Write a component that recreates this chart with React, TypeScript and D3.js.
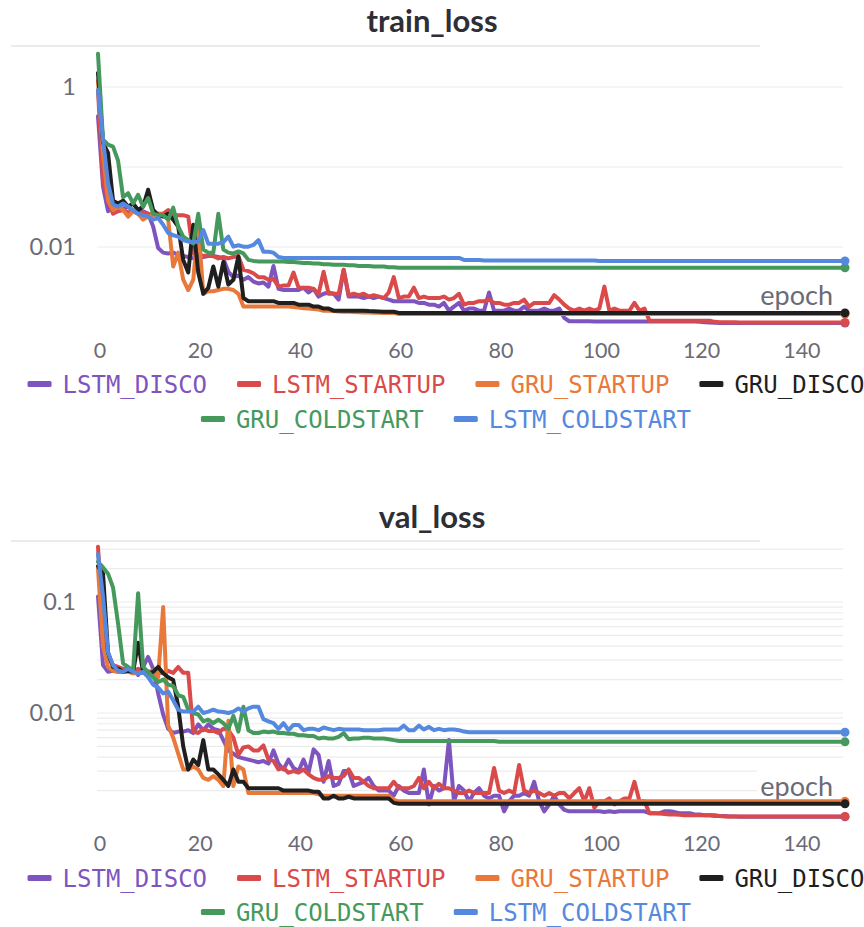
import React from 'react';
import * as d3 from 'd3';

const seriesNames = ['LSTM_DISCO', 'LSTM_STARTUP', 'GRU_STARTUP', 'GRU_DISCO', 'GRU_COLDSTART', 'LSTM_COLDSTART'];
const seriesColors = ['#7E55BF', '#DA4A4A', '#E8793A', '#1F1F1F', '#46995C', '#5489DF'];
const xTicks = [0, 20, 40, 60, 80, 100, 120, 140];

// ---------- train_loss ----------
const trainLstmDisco = [
  0.43, 0.057, 0.028, 0.034, 0.032, 0.030, 0.032, 0.028, 0.027, 0.028,
  0.026, 0.018, 0.0097, 0.0085, 0.0083, 0.0085, 0.0080, 0.0077, 0.0075, 0.0072,
  0.0075, 0.0075, 0.0077, 0.0077, 0.0075, 0.0072, 0.0049, 0.0042, 0.0044, 0.0039,
  0.0042, 0.0037, 0.0035, 0.0036, 0.0032, 0.0058, 0.0030, 0.0029, 0.0029, 0.0029,
  0.0029, 0.0031, 0.0027, 0.0030, 0.0024, 0.0026, 0.0027, 0.0026, 0.0022, 0.0052,
  0.0024, 0.0024, 0.0024, 0.0023, 0.0024, 0.0023, 0.0024, 0.0023, 0.0022, 0.0021,
  0.0021, 0.0021, 0.0021, 0.0021, 0.0020, 0.0020, 0.0019, 0.0019, 0.0018, 0.0020,
  0.0016, 0.0018, 0.0020, 0.0016, 0.0017, 0.0017, 0.0016, 0.0016, 0.0027, 0.0016,
  0.0016, 0.0016, 0.0017, 0.0016, 0.0016, 0.0018, 0.0016, 0.0016, 0.0016, 0.0017,
  0.0016, 0.0016, 0.0017, 0.0013, 0.00118, 0.00118, 0.00118, 0.00118, 0.00118, 0.00117,
  0.00117, 0.00117, 0.00117, 0.00117, 0.00117, 0.00117, 0.00117, 0.00117, 0.00117, 0.00117,
  0.00117, 0.00117, 0.00117, 0.00117, 0.00117, 0.00117, 0.00117, 0.00117, 0.00117, 0.00117,
  0.00116, 0.00115, 0.00114, 0.00113, 0.00112, 0.00112, 0.00112, 0.00112, 0.00112, 0.00112,
  0.00112, 0.00112, 0.00112, 0.00112, 0.00112, 0.00112, 0.00112, 0.00112, 0.00112, 0.00112,
  0.00112, 0.00112, 0.00112, 0.00112, 0.00112, 0.00112, 0.00112, 0.00112, 0.00112, 0.00112,
];
const trainLstmStartup = [
  0.9, 0.069, 0.038, 0.026, 0.028, 0.029, 0.027, 0.028, 0.026, 0.027,
  0.026, 0.025, 0.026, 0.026, 0.029, 0.025, 0.025, 0.025, 0.024, 0.0082,
  0.0080, 0.0078, 0.0078, 0.0077, 0.0072, 0.0075, 0.0072, 0.0075, 0.0077, 0.0052,
  0.0050, 0.0047, 0.0042, 0.0042, 0.0039, 0.0040, 0.0032, 0.0033, 0.0033, 0.0048,
  0.0031, 0.0031, 0.0031, 0.0030, 0.0026, 0.0049, 0.0026, 0.0026, 0.0026, 0.0052,
  0.0025, 0.0026, 0.0025, 0.0026, 0.0024, 0.0025, 0.0024, 0.0023, 0.0027, 0.0042,
  0.0023, 0.0024, 0.0024, 0.0031, 0.0023, 0.0024, 0.0023, 0.0023, 0.0023, 0.0024,
  0.0022, 0.0023, 0.0026, 0.0019, 0.0020, 0.0020, 0.0021, 0.0021, 0.0022, 0.0020,
  0.0020, 0.0019, 0.0019, 0.0020, 0.0020, 0.0022, 0.0018, 0.0020, 0.0020, 0.0020,
  0.0020, 0.0025, 0.0022, 0.0019, 0.0017, 0.0016, 0.0017, 0.0016, 0.0017, 0.0016,
  0.0017, 0.0032, 0.0016, 0.0017, 0.0016, 0.0016, 0.0016, 0.0020, 0.0016, 0.0017,
  0.0012, 0.0012, 0.0012, 0.0012, 0.0012, 0.0012, 0.0012, 0.0012, 0.0012, 0.0012,
  0.0012, 0.0012, 0.0012, 0.00116, 0.00115, 0.00115, 0.00115, 0.00115, 0.00114, 0.00114,
  0.00114, 0.00114, 0.00114, 0.00114, 0.00114, 0.00114, 0.00114, 0.00114, 0.00114, 0.00114,
  0.00114, 0.00114, 0.00114, 0.00114, 0.00114, 0.00114, 0.00114, 0.00114, 0.00114, 0.00114,
];
const trainGruStartup = [
  1.2, 0.15, 0.038, 0.029, 0.032, 0.029, 0.024, 0.028, 0.026, 0.022,
  0.024, 0.025, 0.026, 0.025, 0.022, 0.0057, 0.0085, 0.0039, 0.0029, 0.0039,
  0.019, 0.0026, 0.0028, 0.0028, 0.0029, 0.0030, 0.0030, 0.0029, 0.0026, 0.0018,
  0.0018, 0.0018, 0.0018, 0.0018, 0.0018, 0.0018, 0.0018, 0.0018, 0.0018, 0.00178,
  0.00175, 0.00172, 0.0017, 0.00168, 0.00165, 0.0016, 0.0016, 0.00158, 0.00156, 0.00155,
  0.00155, 0.00154, 0.00153, 0.00152, 0.00152, 0.00151, 0.00151, 0.0015, 0.0015, 0.0015,
  0.00145, 0.00145, 0.00145, 0.00145, 0.00145, 0.00145, 0.00145, 0.00145, 0.00145, 0.00145,
  0.00145, 0.00145, 0.00145, 0.00145, 0.00145, 0.00145, 0.00145, 0.00145, 0.00145, 0.00145,
  0.00145, 0.00145, 0.00145, 0.00145, 0.00145, 0.00145, 0.00145, 0.00145, 0.00145, 0.00145,
  0.00145, 0.00145, 0.00145, 0.00145, 0.00145, 0.00145, 0.00145, 0.00145, 0.00145, 0.00145,
  0.00145, 0.00145, 0.00145, 0.00145, 0.00145, 0.00145, 0.00145, 0.00145, 0.00145, 0.00145,
  0.00145, 0.00145, 0.00145, 0.00145, 0.00145, 0.00145, 0.00145, 0.00145, 0.00145, 0.00145,
  0.00145, 0.00145, 0.00145, 0.00145, 0.00145, 0.00145, 0.00145, 0.00145, 0.00145, 0.00145,
  0.00145, 0.00145, 0.00145, 0.00145, 0.00145, 0.00145, 0.00145, 0.00145, 0.00145, 0.00145,
  0.00145, 0.00145, 0.00145, 0.00145, 0.00145, 0.00145, 0.00145, 0.00145, 0.00145, 0.00145,
];
const trainGruDisco = [
  1.5, 0.2, 0.15, 0.038, 0.035, 0.038, 0.032, 0.035, 0.029, 0.032,
  0.052, 0.029, 0.025, 0.024, 0.026, 0.022, 0.018, 0.0069, 0.0048, 0.019,
  0.0048, 0.0026, 0.0031, 0.0057, 0.0032, 0.0065, 0.0034, 0.0039, 0.0076, 0.0023,
  0.0021, 0.0021, 0.0021, 0.0021, 0.0021, 0.0021, 0.0020, 0.0020, 0.0020, 0.0020,
  0.0019, 0.0019, 0.0019, 0.0018, 0.0018, 0.0017, 0.0017, 0.0016, 0.0016, 0.0016,
  0.0016, 0.0016, 0.0016, 0.0016, 0.00158, 0.00157, 0.00156, 0.00155, 0.00155, 0.00155,
  0.0015, 0.0015, 0.0015, 0.0015, 0.0015, 0.0015, 0.0015, 0.0015, 0.0015, 0.0015,
  0.0015, 0.0015, 0.0015, 0.0015, 0.0015, 0.0015, 0.0015, 0.0015, 0.0015, 0.0015,
  0.0015, 0.0015, 0.0015, 0.0015, 0.0015, 0.0015, 0.0015, 0.0015, 0.0015, 0.0015,
  0.0015, 0.0015, 0.0015, 0.0015, 0.0015, 0.0015, 0.0015, 0.0015, 0.0015, 0.0015,
  0.0015, 0.0015, 0.0015, 0.0015, 0.0015, 0.0015, 0.0015, 0.0015, 0.0015, 0.0015,
  0.0015, 0.0015, 0.0015, 0.0015, 0.0015, 0.0015, 0.0015, 0.0015, 0.0015, 0.0015,
  0.0015, 0.0015, 0.0015, 0.0015, 0.0015, 0.0015, 0.0015, 0.0015, 0.0015, 0.0015,
  0.0015, 0.0015, 0.0015, 0.0015, 0.0015, 0.0015, 0.0015, 0.0015, 0.0015, 0.0015,
  0.0015, 0.0015, 0.0015, 0.0015, 0.0015, 0.0015, 0.0015, 0.0015, 0.0015, 0.0015,
];
const trainGruColdstart = [
  2.6, 0.22, 0.19, 0.18, 0.12, 0.042, 0.047, 0.035, 0.045, 0.032,
  0.041, 0.026, 0.025, 0.025, 0.022, 0.031, 0.018, 0.0135, 0.0122, 0.011,
  0.026, 0.0093, 0.0085, 0.0085, 0.026, 0.0093, 0.0085, 0.0083, 0.0088, 0.0083,
  0.0069, 0.0067, 0.0066, 0.0066, 0.0066, 0.0066, 0.0066, 0.0066, 0.0065, 0.0065,
  0.0064, 0.0063, 0.0063, 0.0062, 0.0062, 0.0061, 0.0061, 0.0060, 0.0060, 0.0060,
  0.0059, 0.0059, 0.0058, 0.0058, 0.0058, 0.0057, 0.0057, 0.0057, 0.0056, 0.0056,
  0.0055, 0.0055, 0.0055, 0.0055, 0.0055, 0.0055, 0.0055, 0.0055, 0.0055, 0.0055,
  0.0055, 0.0055, 0.0055, 0.0055, 0.0055, 0.0055, 0.0055, 0.0055, 0.0055, 0.0055,
  0.0055, 0.0055, 0.0055, 0.0055, 0.0055, 0.0055, 0.0055, 0.0055, 0.0055, 0.0055,
  0.0055, 0.0055, 0.0055, 0.0055, 0.0055, 0.0055, 0.0055, 0.0055, 0.0055, 0.0055,
  0.0055, 0.0055, 0.0055, 0.0055, 0.0055, 0.0055, 0.0055, 0.0055, 0.0055, 0.0055,
  0.0055, 0.0055, 0.0055, 0.0055, 0.0055, 0.0055, 0.0055, 0.0055, 0.0055, 0.0055,
  0.0055, 0.0055, 0.0055, 0.0055, 0.0055, 0.0055, 0.0055, 0.0055, 0.0055, 0.0055,
  0.0055, 0.0055, 0.0055, 0.0055, 0.0055, 0.0055, 0.0055, 0.0055, 0.0055, 0.0055,
  0.0055, 0.0055, 0.0055, 0.0055, 0.0055, 0.0055, 0.0055, 0.0055, 0.0055, 0.0055,
];
const trainLstmColdstart = [
  0.92, 0.22, 0.063, 0.034, 0.032, 0.035, 0.032, 0.029, 0.026, 0.025,
  0.024, 0.022, 0.023, 0.019, 0.015, 0.014, 0.0135, 0.0122, 0.0117, 0.0115,
  0.0117, 0.0163, 0.011, 0.011, 0.011, 0.0115, 0.0135, 0.0101, 0.0105, 0.0101,
  0.0101, 0.0106, 0.0122, 0.0087, 0.0087, 0.0085, 0.0075, 0.0073, 0.0073, 0.0073,
  0.0073, 0.0073, 0.0073, 0.0073, 0.0073, 0.0073, 0.0073, 0.0073, 0.0073, 0.0073,
  0.0073, 0.0073, 0.0073, 0.0073, 0.0073, 0.0073, 0.0073, 0.0073, 0.0073, 0.0073,
  0.0073, 0.0073, 0.0073, 0.0073, 0.0073, 0.0073, 0.0073, 0.0073, 0.0073, 0.0073,
  0.0073, 0.0073, 0.0073, 0.0069, 0.0069, 0.0069, 0.0069, 0.0068, 0.0068, 0.0068,
  0.0068, 0.0068, 0.0068, 0.0068, 0.0068, 0.0068, 0.0068, 0.0068, 0.0068, 0.0068,
  0.0068, 0.0068, 0.0068, 0.0068, 0.0068, 0.0068, 0.0068, 0.0068, 0.0068, 0.0068,
  0.0067, 0.0067, 0.0067, 0.0067, 0.0067, 0.0067, 0.0067, 0.0067, 0.0067, 0.0067,
  0.0067, 0.0067, 0.0067, 0.0067, 0.0067, 0.0067, 0.0067, 0.0067, 0.0067, 0.0067,
  0.0067, 0.0067, 0.0067, 0.0067, 0.0067, 0.0067, 0.0067, 0.0067, 0.0067, 0.0067,
  0.0067, 0.0067, 0.0067, 0.0067, 0.0067, 0.0067, 0.0067, 0.0067, 0.0067, 0.0067,
  0.0067, 0.0067, 0.0067, 0.0067, 0.0067, 0.0067, 0.0067, 0.0067, 0.0067, 0.0067,
];

// ---------- val_loss ----------
const valLstmDisco = [
  0.112, 0.027, 0.0235, 0.024, 0.0235, 0.0235, 0.024, 0.025, 0.022, 0.026,
  0.032, 0.025, 0.015, 0.0097, 0.0072, 0.0066, 0.0068, 0.0068, 0.0070, 0.0066,
  0.0079, 0.0070, 0.0079, 0.0072, 0.0070, 0.0057, 0.0046, 0.0043, 0.0040, 0.0039,
  0.0038, 0.0037, 0.0036, 0.0037, 0.0035, 0.0046, 0.0035, 0.0031, 0.0038, 0.0032,
  0.0030, 0.0038, 0.0029, 0.0047, 0.0042, 0.0024, 0.0037, 0.0022, 0.0023, 0.0030,
  0.0030, 0.0022, 0.0023, 0.0024, 0.0026, 0.0022, 0.0020, 0.0020, 0.0020, 0.0018,
  0.0022, 0.0020, 0.0019, 0.0019, 0.0019, 0.0031, 0.0015, 0.0022, 0.0020, 0.0021,
  0.0057, 0.0016, 0.0022, 0.0020, 0.0016, 0.0019, 0.0021, 0.0018, 0.0017, 0.0018,
  0.0018, 0.0013, 0.0016, 0.0018, 0.0018, 0.0019, 0.0018, 0.0024, 0.0016, 0.0013,
  0.0015, 0.0018, 0.0015, 0.00134, 0.0013, 0.0013, 0.0013, 0.0013, 0.0013, 0.0013,
  0.0013, 0.00128, 0.0013, 0.00128, 0.0013, 0.0013, 0.0013, 0.0013, 0.0013, 0.0013,
  0.00125, 0.00125, 0.00125, 0.0013, 0.0013, 0.00128, 0.00125, 0.00125, 0.00125, 0.00122,
  0.00122, 0.0012, 0.0012, 0.0012, 0.00118, 0.00118, 0.00117, 0.00117, 0.00116, 0.00116,
  0.00116, 0.00116, 0.00116, 0.00116, 0.00116, 0.00116, 0.00116, 0.00116, 0.00116, 0.00116,
  0.00116, 0.00116, 0.00116, 0.00116, 0.00116, 0.00116, 0.00116, 0.00116, 0.00116, 0.00116,
];
const valLstmStartup = [
  0.315, 0.052, 0.032, 0.027, 0.026, 0.025, 0.025, 0.024, 0.025, 0.024,
  0.0235, 0.021, 0.023, 0.023, 0.024, 0.023, 0.026, 0.023, 0.023, 0.0068,
  0.0066, 0.0072, 0.0069, 0.0069, 0.0066, 0.0072, 0.0070, 0.0060, 0.0042, 0.0049,
  0.0050, 0.0046, 0.0046, 0.0051, 0.0038, 0.0037, 0.0031, 0.0032, 0.0029, 0.0030,
  0.0029, 0.0031, 0.0028, 0.0026, 0.0025, 0.0025, 0.0027, 0.0026, 0.0026, 0.0027,
  0.0031, 0.0026, 0.0026, 0.0024, 0.0022, 0.0021, 0.0021, 0.0021, 0.0021, 0.0024,
  0.0021, 0.0021, 0.0021, 0.0022, 0.0026, 0.0021, 0.0024, 0.0021, 0.0023, 0.0021,
  0.0021, 0.0020, 0.0019, 0.0019, 0.0020, 0.0019, 0.0019, 0.0019, 0.0019, 0.0032,
  0.0020, 0.0019, 0.0020, 0.0019, 0.0034, 0.0020, 0.0019, 0.0020, 0.0019, 0.0018,
  0.0019, 0.0018, 0.0019, 0.0019, 0.0017, 0.0019, 0.0021, 0.0016, 0.0021, 0.0014,
  0.0016, 0.0016, 0.0017, 0.0015, 0.0016, 0.0017, 0.0017, 0.0024, 0.0016, 0.0016,
  0.00125, 0.00125, 0.00124, 0.00123, 0.00122, 0.00122, 0.00121, 0.0012, 0.0012, 0.0012,
  0.0012, 0.0012, 0.0012, 0.00118, 0.00118, 0.00117, 0.00117, 0.00117, 0.00117, 0.00117,
  0.00117, 0.00117, 0.00117, 0.00117, 0.00117, 0.00117, 0.00117, 0.00117, 0.00117, 0.00117,
  0.00117, 0.00117, 0.00117, 0.00117, 0.00117, 0.00117, 0.00117, 0.00117, 0.00117, 0.00117,
];
const valGruStartup = [
  0.2, 0.04, 0.026, 0.024, 0.0235, 0.0235, 0.0235, 0.0228, 0.0228, 0.0235,
  0.0235, 0.024, 0.021, 0.09, 0.0077, 0.006, 0.0043, 0.0031, 0.0031, 0.0033,
  0.0031, 0.0026, 0.0025, 0.0027, 0.0025, 0.0022, 0.0085, 0.0022, 0.0033, 0.0031,
  0.0019, 0.0019, 0.0019, 0.0019, 0.0019, 0.0019, 0.0019, 0.0019, 0.0019, 0.0019,
  0.0019, 0.0019, 0.0019, 0.0019, 0.00185, 0.0018, 0.0018, 0.0018, 0.0018, 0.0018,
  0.0018, 0.0018, 0.0018, 0.0018, 0.0018, 0.0018, 0.0018, 0.0018, 0.0018, 0.00165,
  0.0016, 0.0016, 0.0016, 0.0016, 0.0016, 0.0016, 0.0016, 0.0016, 0.0016, 0.0016,
  0.0016, 0.0016, 0.0016, 0.0016, 0.0016, 0.0016, 0.0016, 0.0016, 0.0016, 0.0016,
  0.0016, 0.0016, 0.0016, 0.0016, 0.0016, 0.0016, 0.0016, 0.0016, 0.0016, 0.0016,
  0.0016, 0.0016, 0.0016, 0.0016, 0.0016, 0.0016, 0.0016, 0.0016, 0.0016, 0.0016,
  0.0016, 0.0016, 0.0016, 0.0016, 0.0016, 0.0016, 0.0016, 0.0016, 0.0016, 0.0016,
  0.0016, 0.0016, 0.0016, 0.0016, 0.0016, 0.0016, 0.0016, 0.0016, 0.0016, 0.0016,
  0.0016, 0.0016, 0.0016, 0.0016, 0.0016, 0.0016, 0.0016, 0.0016, 0.0016, 0.0016,
  0.0016, 0.0016, 0.0016, 0.0016, 0.0016, 0.0016, 0.0016, 0.0016, 0.0016, 0.0016,
  0.0016, 0.0016, 0.0016, 0.0016, 0.0016, 0.0016, 0.0016, 0.0016, 0.0016, 0.0016,
];
const valGruDisco = [
  0.21, 0.18, 0.035, 0.026, 0.025, 0.0235, 0.024, 0.0235, 0.043, 0.0235,
  0.0228, 0.0235, 0.026, 0.0228, 0.021, 0.0198, 0.0114, 0.005, 0.0031, 0.0038,
  0.0034, 0.0057, 0.0031, 0.0031, 0.0028, 0.0025, 0.0022, 0.0031, 0.0024, 0.0024,
  0.0021, 0.0021, 0.0021, 0.0021, 0.0021, 0.0021, 0.0021, 0.0020, 0.0020, 0.0020,
  0.0020, 0.0020, 0.0020, 0.00195, 0.00195, 0.0017, 0.0017, 0.0018, 0.0017, 0.0017,
  0.00176, 0.0017, 0.0017, 0.0017, 0.0017, 0.0017, 0.0017, 0.0017, 0.0017, 0.00155,
  0.00152, 0.00152, 0.00152, 0.00152, 0.00152, 0.00152, 0.00152, 0.00152, 0.00152, 0.00152,
  0.00152, 0.00152, 0.00152, 0.00152, 0.00152, 0.00152, 0.00152, 0.00152, 0.00152, 0.00152,
  0.00152, 0.00152, 0.00152, 0.00152, 0.00152, 0.00152, 0.00152, 0.00152, 0.00152, 0.00152,
  0.00152, 0.00152, 0.00152, 0.00152, 0.00152, 0.00152, 0.00152, 0.00152, 0.00152, 0.00152,
  0.00152, 0.00152, 0.00152, 0.00152, 0.00152, 0.00152, 0.00152, 0.00152, 0.00152, 0.00152,
  0.00152, 0.00152, 0.00152, 0.00152, 0.00152, 0.00152, 0.00152, 0.00152, 0.00152, 0.00152,
  0.00152, 0.00152, 0.00152, 0.00152, 0.00152, 0.00152, 0.00152, 0.00152, 0.00152, 0.00152,
  0.00152, 0.00152, 0.00152, 0.00152, 0.00152, 0.00152, 0.00152, 0.00152, 0.00152, 0.00152,
  0.00152, 0.00152, 0.00152, 0.00152, 0.00152, 0.00152, 0.00152, 0.00152, 0.00152, 0.00152,
];
const valGruColdstart = [
  0.23, 0.205, 0.18, 0.135, 0.064, 0.028, 0.026, 0.024, 0.12, 0.026,
  0.0235, 0.021, 0.019, 0.020, 0.018, 0.0175, 0.0145, 0.014, 0.0107, 0.010,
  0.0097, 0.0084, 0.0087, 0.0081, 0.0087, 0.0081, 0.0072, 0.0094, 0.0068, 0.0114,
  0.0070, 0.0066, 0.0066, 0.0068, 0.0067, 0.0068, 0.0066, 0.0066, 0.0065, 0.0065,
  0.0063, 0.0063, 0.0062, 0.0062, 0.0059, 0.0060, 0.0059, 0.0059, 0.0061, 0.0066,
  0.0058, 0.0059, 0.0059, 0.0060, 0.0060, 0.0059, 0.0059, 0.0059, 0.0058, 0.0057,
  0.0056, 0.0056, 0.0056, 0.0056, 0.0056, 0.0056, 0.0056, 0.0056, 0.0056, 0.0056,
  0.0056, 0.0056, 0.0056, 0.0056, 0.0056, 0.0056, 0.0056, 0.0056, 0.0056, 0.0056,
  0.0055, 0.0055, 0.0055, 0.0055, 0.0055, 0.0055, 0.0055, 0.0055, 0.0055, 0.0055,
  0.0055, 0.0055, 0.0055, 0.0055, 0.0055, 0.0055, 0.0055, 0.0055, 0.0055, 0.0055,
  0.0055, 0.0055, 0.0055, 0.0055, 0.0055, 0.0055, 0.0055, 0.0055, 0.0055, 0.0055,
  0.0055, 0.0055, 0.0055, 0.0055, 0.0055, 0.0055, 0.0055, 0.0055, 0.0055, 0.0055,
  0.0055, 0.0055, 0.0055, 0.0055, 0.0055, 0.0055, 0.0055, 0.0055, 0.0055, 0.0055,
  0.0055, 0.0055, 0.0055, 0.0055, 0.0055, 0.0055, 0.0055, 0.0055, 0.0055, 0.0055,
  0.0055, 0.0055, 0.0055, 0.0055, 0.0055, 0.0055, 0.0055, 0.0055, 0.0055, 0.0055,
];
const valLstmColdstart = [
  0.27, 0.112, 0.035, 0.027, 0.024, 0.0235, 0.025, 0.0235, 0.0228, 0.0235,
  0.021, 0.018, 0.017, 0.015, 0.0155, 0.013, 0.0107, 0.0103, 0.0103, 0.0103,
  0.0114, 0.010, 0.0103, 0.0107, 0.0103, 0.0102, 0.010, 0.0103, 0.011, 0.0103,
  0.011, 0.0114, 0.0114, 0.0088, 0.0084, 0.0081, 0.0072, 0.0081, 0.0070, 0.0078,
  0.0078, 0.0070, 0.0072, 0.0072, 0.0070, 0.0074, 0.0072, 0.0070, 0.0072, 0.0071,
  0.0071, 0.0071, 0.0071, 0.0070, 0.0070, 0.0070, 0.0070, 0.0071, 0.0071, 0.0071,
  0.0071, 0.0077, 0.0070, 0.0070, 0.0077, 0.0071, 0.0075, 0.0070, 0.0072, 0.0070,
  0.0071, 0.0071, 0.0070, 0.0068, 0.0067, 0.0067, 0.0067, 0.0067, 0.0067, 0.0067,
  0.0067, 0.0067, 0.0067, 0.0067, 0.0067, 0.0067, 0.0067, 0.0067, 0.0067, 0.0067,
  0.0067, 0.0067, 0.0067, 0.0067, 0.0067, 0.0067, 0.0067, 0.0067, 0.0067, 0.0067,
  0.0067, 0.0067, 0.0067, 0.0067, 0.0067, 0.0067, 0.0067, 0.0067, 0.0067, 0.0067,
  0.0067, 0.0067, 0.0067, 0.0067, 0.0067, 0.0067, 0.0067, 0.0067, 0.0067, 0.0067,
  0.0067, 0.0067, 0.0067, 0.0067, 0.0067, 0.0067, 0.0067, 0.0067, 0.0067, 0.0067,
  0.0067, 0.0067, 0.0067, 0.0067, 0.0067, 0.0067, 0.0067, 0.0067, 0.0067, 0.0067,
  0.0067, 0.0067, 0.0067, 0.0067, 0.0067, 0.0067, 0.0067, 0.0067, 0.0067, 0.0067,
];

const trainGrid = [1, 0.1, 0.01];
const trainLabels = [1, 0.01];
const valGrid = [0.3, 0.2, 0.1, 0.09, 0.08, 0.07, 0.06, 0.05, 0.04, 0.03, 0.02, 0.01,
  0.009, 0.008, 0.007, 0.006, 0.005, 0.004, 0.003, 0.002];
const valLabels = [0.1, 0.01];

const trainSeries = [trainLstmDisco, trainLstmStartup, trainGruStartup, trainGruDisco, trainGruColdstart, trainLstmColdstart];
const valSeries = [valLstmDisco, valLstmStartup, valGruStartup, valGruDisco, valGruColdstart, valLstmColdstart];

const GRAY = '#6b6b76';
const SANS = 'Lato, "Open Sans", sans-serif';
const MONO = '"DejaVu Sans Mono", monospace';

const x = d3.scaleLinear().domain([0, 149]).range([98, 845]);

type ChartProps = {
  id: string;
  title: string;
  titleY: number;
  sepY: number;
  clipTop: number;
  clipBottom: number;
  yScale: d3.ScaleLogarithmic<number, number>;
  grid: number[];
  labels: number[];
  xLabelY: number;
  epochY: number;
  legendY: number[];
  data: number[][];
};

function Legend({ y }: { y: number[] }) {
  const cw = 14.45;
  const sw = 24, gapText = 11, gapItem = 30, cx = 446;
  const rows = [[0, 1, 2, 3], [4, 5]];
  return (
    <g>
      {rows.map((row, ri) => {
        const widths = row.map(i => sw + gapText + seriesNames[i].length * cw);
        const total = d3.sum(widths) + gapItem * (row.length - 1);
        let pos = cx - total / 2;
        return row.map((i, k) => {
          const x0 = pos;
          pos += widths[k] + gapItem;
          return (
            <g key={`${ri}-${i}`}>
              <rect x={x0} y={y[ri] - 3} width={sw} height={6} rx={1.5} fill={seriesColors[i]} />
              <text x={x0 + sw + gapText} y={y[ri]} dy="0.36em" fontFamily={MONO} fontSize={24}
                fill={seriesColors[i]}>{seriesNames[i]}</text>
            </g>
          );
        });
      })}
    </g>
  );
}

function Chart(p: ChartProps) {
  const y = p.yScale;
  const line = d3.line<number>().x((_, i) => x(i)).y(v => y(v));
  return (
    <g>
      <text x={432} y={p.titleY} textAnchor="middle" fontFamily={SANS} fontWeight={700} fontSize={31}
        fill="#2e2e36">{p.title}</text>
      <line x1={11} x2={760} y1={p.sepY} y2={p.sepY} stroke="#e4e4e4" strokeWidth={1.5} />
      <clipPath id={p.id}>
        <rect x={90} y={p.clipTop} width={764} height={p.clipBottom - p.clipTop} />
      </clipPath>
      {p.grid.map(g => (
        <line key={g} x1={97} x2={843} y1={y(g)} y2={y(g)} stroke="#ececec" strokeWidth={1.2} />
      ))}
      {p.labels.map(l => (
        <text key={l} x={76} y={y(l)} dy="0.36em" textAnchor="end" fontFamily={SANS} fontSize={23.5}
          fill={GRAY}>{String(l)}</text>
      ))}
      {xTicks.map(t => (
        <text key={t} x={x(t) + 2} y={p.xLabelY} dy="0.36em" textAnchor="middle" fontFamily={SANS} fontSize={21.5}
          fill={GRAY}>{t}</text>
      ))}
      <rect x={757} y={p.epochY - 17} width={89} height={30} fill="#fff" />
      <text x={833} y={p.epochY} dy="0.36em" textAnchor="end" fontFamily={SANS} fontSize={27} fill={GRAY}>epoch</text>
      <g clipPath={`url(#${p.id})`}>
        {p.data.map((d, i) => (
          <path key={i} d={line(d) || ''} fill="none" stroke={seriesColors[i]} strokeWidth={4}
            strokeLinejoin="round" strokeLinecap="round" />
        ))}
        {p.data.map((d, i) => (
          <circle key={'c' + i} cx={x(d.length - 1)} cy={y(d[d.length - 1])} r={4.5} fill={seriesColors[i]} />
        ))}
      </g>
      <Legend y={p.legendY} />
    </g>
  );
}

export default function App() {
  const yTrain = d3.scaleLog().domain([1, 0.01]).range([87, 247]);
  const yVal = d3.scaleLog().domain([0.1, 0.01]).range([602, 713]);
  return (
    <svg width={864} height={927} style={{ position: 'absolute', left: 0, top: 0, background: '#fff' }}>
      <rect width={864} height={927} fill="#fff" />
      <Chart id="clipTrain" title="train_loss" titleY={32} sepY={46} clipTop={46} clipBottom={330}
        yScale={yTrain} grid={trainGrid} labels={trainLabels} xLabelY={350} epochY={295}
        legendY={[384, 419]} data={trainSeries} />
      <Chart id="clipVal" title="val_loss" titleY={528} sepY={541} clipTop={541} clipBottom={826}
        yScale={yVal} grid={valGrid} labels={valLabels} xLabelY={843} epochY={786}
        legendY={[878, 912]} data={valSeries} />
    </svg>
  );
}
